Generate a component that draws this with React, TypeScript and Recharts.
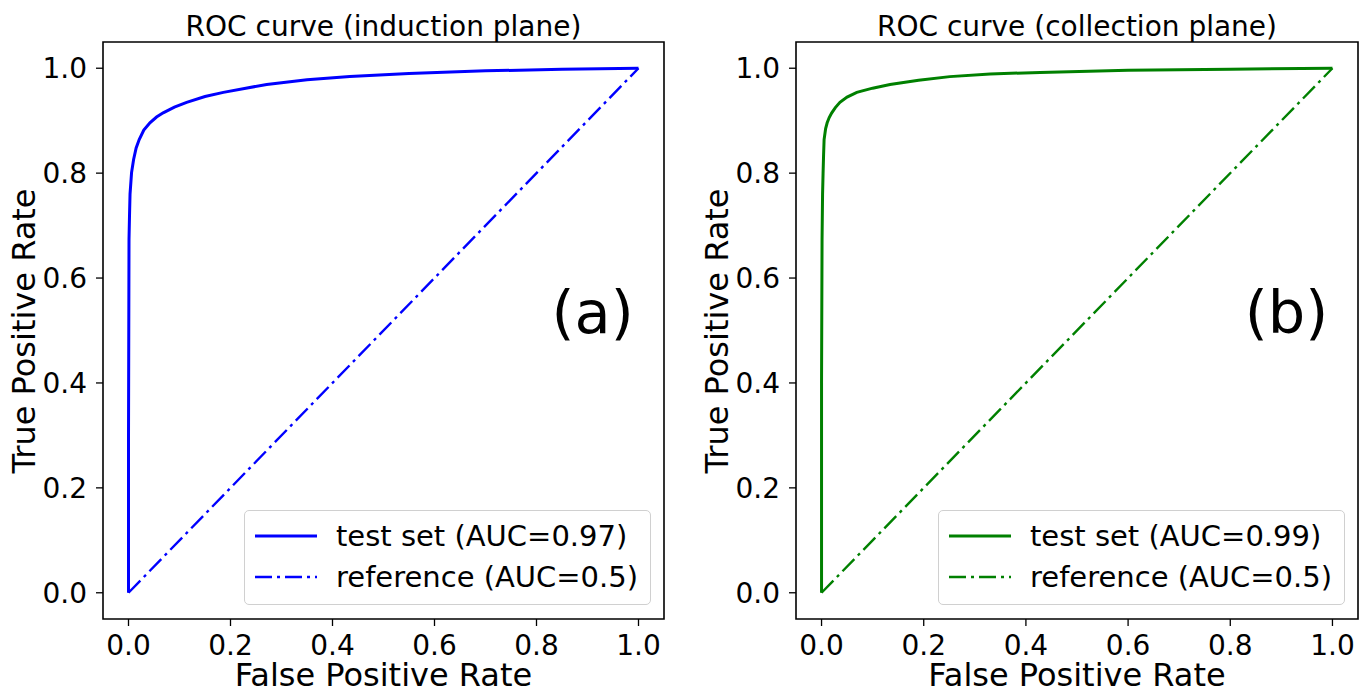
import React from 'react';
import { LineChart, Line, XAxis, YAxis, ReferenceArea, ReferenceDot, Legend } from 'recharts';

const FONT = '"DejaVu Sans", sans-serif';

// ROC (induction plane)
const fprInduction = [0, 0, 0.001, 0.002, 0.003, 0.006, 0.01, 0.015, 0.021, 0.03, 0.042, 0.055, 0.068, 0.09, 0.114, 0.15, 0.186, 0.23, 0.271, 0.35, 0.434, 0.55, 0.7, 0.85, 1.0];
const tprInduction = [0, 0.3, 0.674, 0.72, 0.76, 0.801, 0.826, 0.848, 0.864, 0.882, 0.896, 0.907, 0.915, 0.926, 0.935, 0.946, 0.954, 0.962, 0.969, 0.978, 0.984, 0.99, 0.995, 0.998, 1.0];

// ROC (collection plane)
const fprCollection = [0, 0, 0.001, 0.002, 0.003, 0.004, 0.005, 0.008, 0.011, 0.015, 0.02, 0.027, 0.036, 0.05, 0.069, 0.1, 0.134, 0.19, 0.251, 0.33, 0.428, 0.6, 0.8, 1.0];
const tprCollection = [0, 0.4, 0.674, 0.76, 0.8, 0.835, 0.864, 0.885, 0.896, 0.906, 0.915, 0.925, 0.935, 0.945, 0.954, 0.962, 0.969, 0.977, 0.984, 0.989, 0.992, 0.996, 0.998, 1.0];

const refX = [0, 1];
const refY = [0, 1];

const ticks = [0, 0.2, 0.4, 0.6, 0.8, 1.0];

const toPoints = (xs: number[], ys: number[]) => xs.map((x, i) => ({ x, y: ys[i] }));

const LegendBox = ({ payload }: any) => {
  const items = [...(payload || [])].sort(
    (a: any, b: any) => (a.payload?.strokeDasharray ? 1 : 0) - (b.payload?.strokeDasharray ? 1 : 0)
  );
  return (
    <div
      style={{
        width: 407,
        height: 95,
        border: '1.5px solid #d0d0d0',
        borderRadius: 5,
        background: 'rgba(255,255,255,0.8)',
        boxSizing: 'border-box',
        fontFamily: FONT,
        fontSize: 29,
        color: 'black',
        position: 'relative',
      }}
    >
      {items.map((p: any, i: number) => (
        <div key={i} style={{ position: 'absolute', left: 0, top: 7 + i * 41, height: 36, display: 'flex', alignItems: 'center' }}>
          <svg width={90} height={36} style={{ display: 'block' }}>
            <line
              x1={10}
              x2={72}
              y1={18}
              y2={18}
              stroke={p.color}
              strokeWidth={p.payload?.strokeWidth ?? 3}
              strokeDasharray={p.payload?.strokeDasharray}
            />
          </svg>
          <span style={{ whiteSpace: 'nowrap', marginLeft: 1, lineHeight: '36px' }}>{p.value}</span>
        </div>
      ))}
    </div>
  );
};

type PanelProps = {
  left: number;
  title: string;
  tag: string;
  color: string;
  xs: number[];
  ys: number[];
  testName: string;
  yAxisWidth: number;
  rightMargin: number;
};

const Panel = ({ left, title, tag, color, xs, ys, testName, yAxisWidth, rightMargin }: PanelProps) => {
  const W = 685;
  const plotLeft = yAxisWidth;
  const plotRight = W - rightMargin;
  const cx = (plotLeft + plotRight) / 2;
  return (
    <div style={{ position: 'absolute', left, top: 0, width: W, height: 690 }}>
      <LineChart width={W} height={690} margin={{ top: 42, right: rightMargin, bottom: 0, left: 0 }}>
        <XAxis
          type="number"
          dataKey="x"
          domain={[-0.05, 1.05]}
          ticks={ticks}
          tickFormatter={(v: number) => v.toFixed(1)}
          height={71}
          axisLine={false}
          tickLine={{ stroke: 'black', strokeWidth: 1.3 }}
          tickSize={7}
          tickMargin={9}
          tick={{ fill: 'black', fontSize: 28, fontFamily: FONT }}
          allowDataOverflow
        />
        <YAxis
          type="number"
          dataKey="y"
          domain={[-0.05, 1.05]}
          ticks={ticks}
          tickFormatter={(v: number) => v.toFixed(1)}
          width={yAxisWidth}
          axisLine={false}
          tickLine={{ stroke: 'black', strokeWidth: 1.3 }}
          tickSize={7}
          tickMargin={9}
          tick={{ fill: 'black', fontSize: 28, fontFamily: FONT }}
          allowDataOverflow
        />
        <Line
          data={toPoints(xs, ys)}
          dataKey="y"
          name={testName}
          type="linear"
          stroke={color}
          strokeWidth={3}
          dot={false}
          isAnimationActive={false}
        />
        <Line
          data={toPoints(refX, refY)}
          dataKey="y"
          name="reference (AUC=0.5)"
          type="linear"
          stroke={color}
          strokeWidth={2.4}
          strokeDasharray="17 5 3 5"
          dot={false}
          isAnimationActive={false}
        />
        <ReferenceArea x1={-0.05} x2={1.05} y1={-0.05} y2={1.05} fill="none" stroke="black" strokeWidth={1.6} ifOverflow="visible" />
        <ReferenceDot
          x={0.91}
          y={0.536}
          r={0}
          fill="none"
          stroke="none"
          label={{ value: tag, position: 'center', fontSize: 59, fill: 'black', fontFamily: FONT }}
        />
        <Legend
          layout="horizontal"
          verticalAlign="middle"
          align="center"
          content={<LegendBox />}
          wrapperStyle={{ position: 'absolute', left: plotRight - 420, top: 510, width: 407, height: 95 }}
        />
        <text x={cx} y={36} textAnchor="middle" fontSize={28} fontFamily={FONT} fill="black">
          {title}
        </text>
        <text x={cx} y={686} textAnchor="middle" fontSize={32} fontFamily={FONT} fill="black">
          False Positive Rate
        </text>
        <text
          x={0}
          y={0}
          transform={`translate(${yAxisWidth - 68}, 331) rotate(-90)`}
          textAnchor="middle"
          fontSize={32}
          fontFamily={FONT}
          fill="black"
        >
          True Positive Rate
        </text>
      </LineChart>
    </div>
  );
};

export default function App() {
  return (
    <div style={{ position: 'absolute', left: 0, top: 0, width: 1370, height: 690, background: 'white' }}>
      <Panel
        left={0}
        title="ROC curve (induction plane)"
        tag="(a)"
        color="#0000ff"
        xs={fprInduction}
        ys={tprInduction}
        testName="test set (AUC=0.97)"
        yAxisWidth={103}
        rightMargin={21}
      />
      <Panel
        left={685}
        title="ROC curve (collection plane)"
        tag="(b)"
        color="#008000"
        xs={fprCollection}
        ys={tprCollection}
        testName="test set (AUC=0.99)"
        yAxisWidth={111}
        rightMargin={12}
      />
    </div>
  );
}
